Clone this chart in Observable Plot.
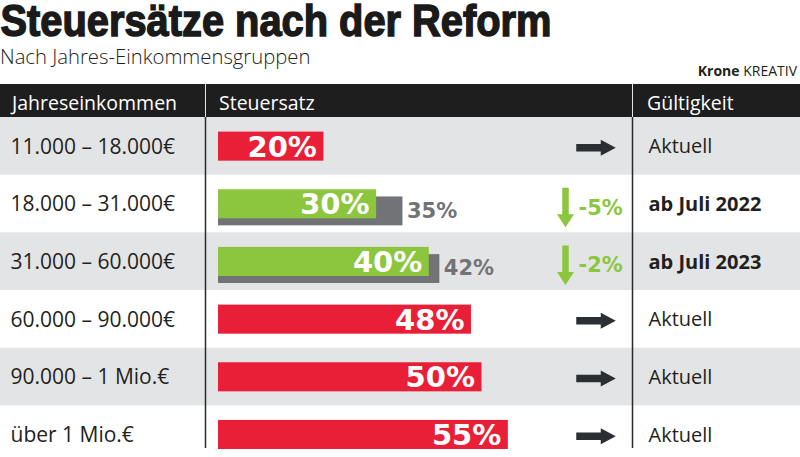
<!DOCTYPE html>
<html>
<head>
<meta charset="utf-8">
<script src="https://cdn.jsdelivr.net/npm/d3@7"></script>
<script src="https://cdn.jsdelivr.net/npm/@observablehq/plot@0.6"></script>
<style>
  html, body { margin: 0; padding: 0; background: #fff; }
  #page { position: relative; width: 800px; height: 457px; overflow: hidden; font-family: "Open Sans", sans-serif; color: #231f20; }
  .abs { position: absolute; white-space: nowrap; line-height: 1; }
  #header { position: absolute; left: 0; top: 84px; width: 800px; height: 33px; background: #1e1e1e; }
  #header .col { position: absolute; top: 8.5px; color: #fff; font-size: 19.5px; line-height: 1; }
  #header .sep { position: absolute; top: 0; width: 1px; height: 33px; background: #e6e6e6; }
  #chart { position: absolute; left: 0; top: 117px; }
</style>
</head>
<body>
<div id="page">
  <svg class="abs" style="left:0;top:0" width="800" height="46">
    <text id="title" x="0.5" y="35.5" font-family="Liberation Sans, Arial, sans-serif" font-weight="bold" font-size="45" fill="#1a1a1a" stroke="#1a1a1a" stroke-width="1.5" textLength="551" lengthAdjust="spacingAndGlyphs"></text>
  </svg>
  <div id="subtitle" class="abs" style="left:0;top:46px;font-size:20.3px;font-weight:300;color:#231f20"></div>
  <div id="credit" class="abs" style="right:3px;top:64px;font-size:14px;color:#231f20"></div>
  <div id="header"></div>
  <div id="chart"></div>
</div>
<script>
// ---- data ----
const titleText = "Steuersätze nach der Reform";
const subtitleText = "Nach Jahres-Einkommensgruppen";
const creditBold = "Krone";
const creditRest = "KREATIV";
const headers = ["Jahreseinkommen", "Steuersatz", "Gültigkeit"];
const incomes = ["11.000 – 18.000€", "18.000 – 31.000€", "31.000 – 60.000€", "60.000 – 90.000€", "90.000 – 1 Mio.€", "über 1 Mio.€"];
const rates = [20, 30, 40, 48, 50, 55];
const previousRates = [null, 35, 42, null, null, null];
const changes = [null, -5, -2, null, null, null];
const validity = ["Aktuell", "ab Juli 2022", "ab Juli 2023", "Aktuell", "Aktuell", "Aktuell"];

// ---- texts ----
document.getElementById("title").textContent = titleText;
document.getElementById("subtitle").textContent = subtitleText;
const credit = document.getElementById("credit");
const cb = document.createElement("b"); cb.textContent = creditBold;
credit.appendChild(cb);
credit.appendChild(document.createTextNode(" " + creditRest));

const header = document.getElementById("header");
const headerX = [12, 219, 647];
const sepX = [205, 632];
headers.forEach((h, i) => {
  const s = document.createElement("div");
  s.className = "col"; s.style.left = headerX[i] + "px"; s.textContent = h;
  header.appendChild(s);
});
sepX.forEach(x => {
  const s = document.createElement("div");
  s.className = "sep"; s.style.left = x + "px";
  header.appendChild(s);
});

// ---- table ----
const rows = incomes.map((income, i) => ({
  income, rate: rates[i], previous: previousRates[i], change: changes[i], validity: validity[i],
  kind: previousRates[i] != null ? "gesenkt" : "unverändert"
}));
const reduced = rows.filter(d => d.previous != null);
const unchanged = rows.filter(d => d.previous == null);

const RED = "#e81f36", GREEN = "#8cc63f", GREYBAR = "#727377", DARK = "#2b2e32";

function arrowShape(shaftW, headW, headL) {
  return {
    draw(context, l) {
      const s = shaftW / 2, h = headW / 2, b = -(l - headL);
      context.moveTo(-s, 0);
      context.lineTo(-s, b);
      context.lineTo(-h, b);
      context.lineTo(0, -l);
      context.lineTo(h, b);
      context.lineTo(s, b);
      context.lineTo(s, 0);
      context.closePath();
    }
  };
}

const chart = Plot.plot({
  width: 800,
  height: 340,
  margin: 0,
  style: {fontFamily: "Open Sans", background: "transparent"},
  x: {domain: [0, 100], range: [218, 745], axis: null},
  y: {domain: incomes, range: [0, 346], padding: 0, round: false, axis: null},
  color: {domain: ["unverändert", "gesenkt"], range: [RED, GREEN]},
  marks: [
    Plot.cell(rows.filter((d, i) => i % 2 === 0), {y: "income", fill: "#e3e4e5"}),
    // old rates (grey, offset)
    Plot.barX(reduced, {x: "previous", y: "income", fill: GREYBAR, insetTop: 21.8, insetBottom: 7}),
    Plot.barX(rows, {x: "rate", y: "income", fill: "kind", insetTop: 14.6, insetBottom: 14}),
    Plot.text(rows, {x: "rate", y: "income", text: d => d.rate + "%", textAnchor: "end", dx: -7, dy: 1,
      fill: "white", fontSize: 29, fontWeight: "bold", fontFamily: "DejaVu Sans"}),
    Plot.text(reduced, {x: "previous", y: "income", text: d => d.previous + "%", textAnchor: "start", dx: 4, dy: 7,
      fill: GREYBAR, fontSize: 21, fontWeight: "bold", fontFamily: "DejaVu Sans"}),
    // income labels
    Plot.text(rows, {y: "income", text: "income", frameAnchor: "left", dx: 10, dy: 0.5,
      fill: "#231f20", fontSize: 21, textAnchor: "start"}),
    // validity labels
    Plot.text(unchanged, {y: "income", text: "validity", frameAnchor: "left", dx: 648, dy: 0.5,
      fill: "#231f20", fontSize: 20, textAnchor: "start"}),
    Plot.text(reduced, {y: "income", text: "validity", frameAnchor: "left", dx: 648, dy: 0.5,
      fill: "#231f20", fontSize: 20, fontWeight: "bold", textAnchor: "start"}),
    // arrows
    Plot.vector(unchanged, {y: "income", frameAnchor: "left", dx: 595.5, dy: 1.5, length: 39.5, rotate: 90,
      anchor: "middle", shape: arrowShape(7.5, 16, 15), fill: DARK, stroke: "none"}),
    Plot.vector(reduced, {y: "income", frameAnchor: "left", dx: 565, dy: 3.5, length: 39.5, rotate: 180,
      anchor: "middle", shape: arrowShape(6.5, 17, 13), fill: GREEN, stroke: "none"}),
    Plot.text(reduced, {y: "income", text: d => d.change + "%", frameAnchor: "left", dx: 578, dy: 4,
      fill: GREEN, fontSize: 21, fontWeight: "bold", fontFamily: "DejaVu Sans", textAnchor: "start"}),
    // column separators
    Plot.ruleX([0], {dx: -13, stroke: "#2a2a2a", strokeWidth: 1.5, insetBottom: 9}),
    Plot.ruleX([0], {dx: 414, stroke: "#2a2a2a", strokeWidth: 1.5, insetBottom: 9})
  ]
});
document.getElementById("chart").appendChild(chart);
</script>
</body>
</html>
